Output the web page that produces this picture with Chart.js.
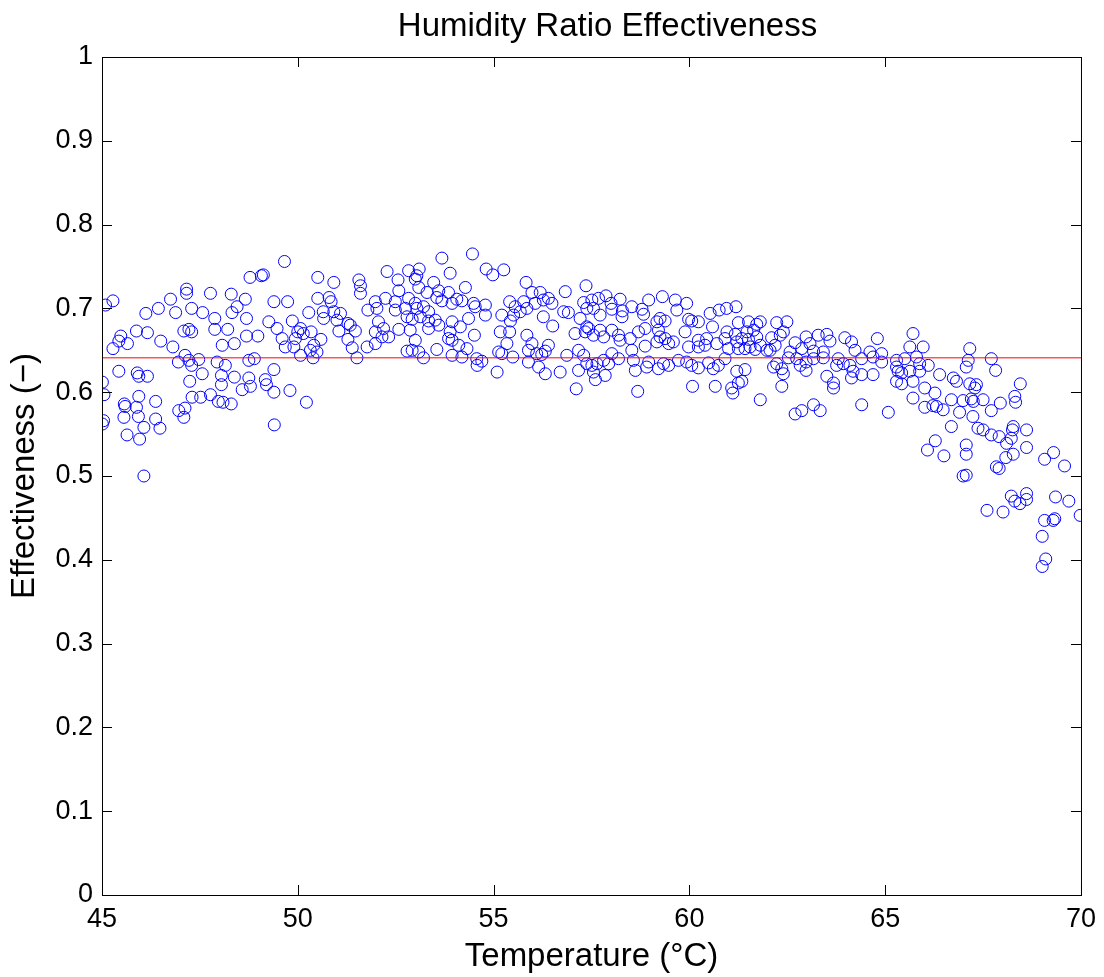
<!DOCTYPE html>
<html>
<head>
<meta charset="utf-8">
<title>Humidity Ratio Effectiveness</title>
<script src="https://cdn.jsdelivr.net/npm/chart.js@4.4.1/dist/chart.umd.min.js"></script>
<style>
  html, body { margin: 0; padding: 0; background: #fff; }
  #wrap { width: 1104px; height: 977px; }
</style>
</head>
<body>
<div id="wrap"><canvas id="effectiveness-chart" width="1104" height="977"></canvas></div>
<script>
// values
const temperature = [
  45.09, 45.28, 47.16, 47.16, 47.77, 46.75, 46.88, 46.44, 46.12, 47.29, 47.57, 47.88, 45.88, 46.16, 45.48, 45.43,
  45.65, 45.28, 46.50, 46.81, 47.09, 47.22, 47.29, 47.88, 48.07, 46.95, 47.12, 47.22, 47.47, 47.29, 47.56, 47.94,
  48.15, 45.43, 45.90, 45.94, 46.16, 47.24, 48.05, 48.05, 45.01, 45.05, 45.94, 46.37, 45.57, 45.59, 45.88, 47.30,
  47.52, 47.77, 47.97, 48.09, 46.96, 47.12, 47.09, 45.56, 45.93, 46.37, 46.07, 46.48, 45.04, 45.01, 45.64, 45.96,
  46.07,
  49.66, 48.78, 49.07, 49.12, 50.51, 50.92, 48.30, 48.66, 48.45, 48.32, 48.69, 49.39, 49.74, 50.51, 50.80, 50.85,
  50.28, 50.65, 50.66, 50.92, 51.09, 51.00, 51.28, 51.05, 51.28, 49.26, 49.47, 49.86, 50.07, 49.60, 50.00, 49.94,
  50.14, 50.34, 50.59, 50.41, 50.32, 50.49, 49.68, 49.90, 48.21, 48.69, 48.98, 48.38, 50.07, 50.39, 48.75, 48.89,
  49.39, 48.38, 48.75, 49.17, 49.20, 48.79, 48.58, 49.39, 49.80, 50.22, 48.30, 49.40,
  53.68, 54.46, 52.28, 52.83, 53.10, 53.04, 53.89, 51.56, 51.60, 51.60, 52.56, 52.58, 53.00, 53.09, 53.47, 53.60,
  53.85, 54.28, 53.30, 53.55, 54.06, 54.19, 54.49, 53.94, 53.68, 51.98, 52.24, 52.49, 52.83, 53.00, 53.21, 52.75,
  53.04, 53.34, 53.51, 52.79, 52.92, 53.13, 53.34, 53.60, 51.79, 52.02, 52.49, 51.34, 51.47, 52.06, 51.98, 52.19,
  52.15, 52.32, 52.58, 52.87, 53.34, 53.94, 54.15, 53.89, 53.85, 53.94, 54.11, 54.36, 54.53, 54.51, 51.39, 51.77,
  51.98, 53.00, 53.55, 52.79, 52.92, 53.09, 53.21, 53.94, 54.19, 54.32, 54.58, 51.51,
  54.81, 54.98, 55.26, 55.83, 56.83, 57.36, 54.79, 54.79, 55.41, 55.55, 55.77, 55.98, 56.19, 56.27, 56.40, 56.49,
  56.06, 55.85, 55.68, 55.51, 55.21, 55.43, 56.27, 56.51, 56.79, 56.91, 57.30, 57.51, 57.68, 57.38, 57.55, 57.21,
  57.38, 57.43, 57.72, 55.17, 55.41, 55.85, 55.98, 55.34, 56.40, 57.08, 57.34, 57.55, 57.72, 54.57, 54.70, 55.13,
  55.21, 55.49, 55.89, 56.10, 56.32, 56.23, 55.89, 56.15, 56.32, 56.87, 57.17, 57.30, 57.38, 57.51, 57.64, 57.55,
  56.70, 57.17, 57.60, 55.09, 57.11,
  57.87, 58.23, 58.00, 58.02, 58.53, 58.29, 58.28, 58.96, 59.31, 59.64, 59.93, 59.68, 58.79, 58.83, 59.25, 59.38,
  59.17, 59.98, 60.06, 60.23, 60.53, 60.76, 60.59, 60.95, 58.02, 57.81, 58.19, 58.23, 58.49, 58.70, 58.87, 58.87,
  59.21, 59.25, 59.38, 59.47, 59.59, 59.17, 59.89, 60.23, 60.44, 60.40, 60.70, 60.91, 59.98, 60.23, 58.02, 58.19,
  57.81, 57.94, 58.53, 58.57, 58.62, 58.96, 58.91, 59.21, 59.34, 59.47, 59.93, 60.06, 60.23, 60.49, 60.61, 60.74,
  60.91, 59.72, 57.85, 58.68, 60.08, 60.66,
  61.19, 61.25, 61.51, 61.72, 61.81, 61.64, 61.47, 60.96, 61.17, 61.34, 61.51, 61.72, 61.21, 61.00, 61.25, 61.42,
  61.55, 61.68, 61.81, 61.98, 62.23, 62.49, 62.40, 62.32, 62.10, 62.19, 62.06, 62.70, 62.98, 63.29, 63.51, 63.59,
  63.08, 62.87, 63.17, 63.42, 63.97, 64.14, 62.57, 62.23, 62.15, 62.36, 62.40, 62.53, 62.83, 62.74, 62.98, 63.17,
  62.98, 63.42, 63.80, 63.76, 63.93, 64.10, 64.14, 63.51, 61.42, 61.21, 61.34, 61.25, 61.08, 61.11, 62.36, 61.81,
  63.68, 63.68, 62.70, 62.87, 63.17, 63.34,
  64.80, 65.71, 65.63, 65.97, 67.16, 64.23, 64.40, 64.61, 64.91, 64.91, 64.69, 65.29, 65.50, 65.80, 65.88, 66.10,
  67.12, 67.07, 64.18, 64.40, 64.69, 65.29, 65.33, 65.42, 65.29, 65.42, 65.71, 65.63, 65.88, 66.39, 66.74, 66.82,
  67.16, 67.33, 65.71, 66.01, 66.27, 66.01, 66.22, 66.31, 66.48, 66.69, 66.99, 67.20, 66.90, 67.24, 67.37, 64.40,
  65.08, 66.69, 66.28, 66.08, 66.50, 67.07, 67.07, 66.99, 67.07,
  67.71, 67.82, 67.29, 68.45, 68.31, 68.33, 67.25, 67.50, 67.94, 67.71, 67.50, 67.71, 67.91, 68.10, 68.22, 68.27,
  68.25, 68.61, 68.61, 68.27, 68.08, 67.84, 67.91, 69.07, 69.30, 69.58, 68.22, 68.31, 68.44, 68.61, 68.61, 69.35,
  69.69, 67.60, 68.01, 69.98, 69.07, 69.29, 69.33, 69.01, 69.10, 69.01
];

const effectiveness = [
  0.704, 0.709, 0.723, 0.718, 0.718, 0.711, 0.695, 0.700, 0.694, 0.700, 0.695, 0.688, 0.673, 0.671, 0.667, 0.661,
  0.658, 0.652, 0.661, 0.654, 0.673, 0.675, 0.672, 0.675, 0.656, 0.636, 0.644, 0.638, 0.639, 0.632, 0.622, 0.636,
  0.632, 0.625, 0.623, 0.619, 0.619, 0.613, 0.620, 0.609, 0.612, 0.597, 0.595, 0.589, 0.586, 0.583, 0.582, 0.594,
  0.594, 0.597, 0.589, 0.588, 0.578, 0.581, 0.570, 0.570, 0.571, 0.568, 0.558, 0.557, 0.566, 0.562, 0.549, 0.544,
  0.500,
  0.756, 0.737, 0.739, 0.740, 0.737, 0.731, 0.717, 0.711, 0.702, 0.695, 0.688, 0.708, 0.708, 0.712, 0.713, 0.708,
  0.695, 0.696, 0.688, 0.696, 0.694, 0.686, 0.682, 0.673, 0.663, 0.684, 0.676, 0.685, 0.676, 0.664, 0.672, 0.664,
  0.670, 0.672, 0.663, 0.656, 0.650, 0.648, 0.654, 0.654, 0.675, 0.667, 0.667, 0.658, 0.644, 0.641, 0.638, 0.640,
  0.627, 0.618, 0.617, 0.615, 0.609, 0.607, 0.603, 0.600, 0.602, 0.588, 0.586, 0.561,
  0.760, 0.765, 0.744, 0.745, 0.747, 0.739, 0.742, 0.734, 0.727, 0.718, 0.734, 0.721, 0.735, 0.725, 0.731, 0.721,
  0.719, 0.725, 0.719, 0.713, 0.711, 0.709, 0.706, 0.706, 0.709, 0.708, 0.712, 0.708, 0.712, 0.706, 0.702, 0.700,
  0.700, 0.696, 0.686, 0.690, 0.687, 0.690, 0.685, 0.680, 0.698, 0.700, 0.698, 0.680, 0.673, 0.684, 0.672, 0.676,
  0.666, 0.666, 0.675, 0.674, 0.676, 0.684, 0.678, 0.672, 0.664, 0.662, 0.656, 0.688, 0.702, 0.668, 0.653, 0.654,
  0.658, 0.662, 0.651, 0.649, 0.650, 0.648, 0.641, 0.644, 0.642, 0.652, 0.632, 0.641,
  0.747, 0.740, 0.746, 0.731, 0.720, 0.727, 0.704, 0.692, 0.708, 0.702, 0.708, 0.719, 0.719, 0.710, 0.712, 0.706,
  0.706, 0.700, 0.696, 0.692, 0.692, 0.685, 0.690, 0.679, 0.696, 0.695, 0.707, 0.710, 0.712, 0.700, 0.700, 0.688,
  0.678, 0.676, 0.692, 0.672, 0.672, 0.668, 0.658, 0.658, 0.656, 0.670, 0.672, 0.668, 0.674, 0.640, 0.637, 0.648,
  0.646, 0.642, 0.650, 0.646, 0.649, 0.645, 0.636, 0.630, 0.622, 0.644, 0.650, 0.644, 0.634, 0.632, 0.634, 0.624,
  0.624, 0.626, 0.615, 0.624, 0.604,
  0.715, 0.711, 0.706, 0.699, 0.702, 0.697, 0.690, 0.710, 0.714, 0.710, 0.706, 0.698, 0.699, 0.693, 0.688, 0.685,
  0.684, 0.687, 0.685, 0.684, 0.694, 0.698, 0.678, 0.700, 0.674, 0.666, 0.668, 0.662, 0.664, 0.672, 0.676, 0.655,
  0.674, 0.666, 0.664, 0.658, 0.660, 0.660, 0.672, 0.662, 0.664, 0.656, 0.658, 0.664, 0.654, 0.654, 0.646, 0.640,
  0.638, 0.634, 0.650, 0.638, 0.626, 0.636, 0.630, 0.628, 0.634, 0.632, 0.636, 0.632, 0.629, 0.635, 0.628, 0.632,
  0.640, 0.638, 0.620, 0.601, 0.607, 0.607,
  0.702, 0.683, 0.684, 0.681, 0.684, 0.674, 0.672, 0.672, 0.669, 0.664, 0.663, 0.666, 0.660, 0.652, 0.652, 0.652,
  0.654, 0.651, 0.656, 0.650, 0.683, 0.684, 0.672, 0.668, 0.665, 0.656, 0.650, 0.659, 0.666, 0.668, 0.669, 0.661,
  0.658, 0.652, 0.649, 0.648, 0.665, 0.660, 0.648, 0.634, 0.630, 0.628, 0.622, 0.641, 0.632, 0.640, 0.636, 0.640,
  0.626, 0.641, 0.640, 0.632, 0.634, 0.632, 0.617, 0.619, 0.627, 0.625, 0.613, 0.611, 0.605, 0.599, 0.607, 0.591,
  0.611, 0.605, 0.574, 0.578, 0.585, 0.578,
  0.664, 0.670, 0.654, 0.654, 0.652, 0.650, 0.640, 0.648, 0.646, 0.636, 0.642, 0.638, 0.640, 0.642, 0.634, 0.632,
  0.638, 0.630, 0.625, 0.621, 0.621, 0.630, 0.625, 0.623, 0.613, 0.610, 0.613, 0.625, 0.625, 0.621, 0.617, 0.613,
  0.610, 0.609, 0.593, 0.605, 0.599, 0.582, 0.584, 0.583, 0.579, 0.591, 0.590, 0.592, 0.576, 0.571, 0.557, 0.585,
  0.576, 0.559, 0.542, 0.531, 0.524, 0.537, 0.526, 0.500, 0.501,
  0.640, 0.626, 0.605, 0.610, 0.595, 0.588, 0.589, 0.591, 0.587, 0.578, 0.555, 0.549, 0.547, 0.539, 0.545, 0.559,
  0.555, 0.555, 0.534, 0.526, 0.522, 0.511, 0.509, 0.520, 0.528, 0.512, 0.476, 0.470, 0.467, 0.479, 0.472, 0.475,
  0.470, 0.459, 0.457, 0.453, 0.447, 0.447, 0.449, 0.428, 0.401, 0.392
];

const meanEffectiveness = 0.641;
const xRange = [45, 70];
const yRange = [0, 1];
const chartTitle = "Humidity Ratio Effectiveness";

const FONT = "'Liberation Sans', Arial, sans-serif";

// MATLAB style box with inward tick marks, plus the title
const boxAxes = {
  id: "boxAxes",
  afterDraw(chart) {
    const { ctx, chartArea: a, scales } = chart;
    const len = 10;
    ctx.save();
    ctx.strokeStyle = "#000";
    ctx.lineWidth = 1;
    ctx.strokeRect(a.left + 0.5, a.top + 0.5, a.right - a.left, a.bottom - a.top);
    ctx.beginPath();
    scales.x.ticks.forEach((t) => {
      const px = Math.round(scales.x.getPixelForValue(t.value)) + 0.5;
      ctx.moveTo(px, a.bottom);
      ctx.lineTo(px, a.bottom - len);
      ctx.moveTo(px, a.top);
      ctx.lineTo(px, a.top + len);
    });
    scales.y.ticks.forEach((t) => {
      const py = Math.round(scales.y.getPixelForValue(t.value)) + 0.5;
      ctx.moveTo(a.left, py);
      ctx.lineTo(a.left + len, py);
      ctx.moveTo(a.right, py);
      ctx.lineTo(a.right - len, py);
    });
    ctx.stroke();

    // title sits a little right of the plot centre, as in the original
    ctx.fillStyle = "#000";
    ctx.font = "33px " + FONT;
    ctx.textAlign = "center";
    ctx.textBaseline = "alphabetic";
    ctx.fillText(chartTitle, (a.left + a.right) / 2 + 16, 36);
    ctx.restore();
  },
};

const ctx = document.getElementById("effectiveness-chart");

new Chart(ctx, {
  type: "scatter",
  data: {
    datasets: [
      {
        type: "line",
        label: "Mean",
        data: [
          { x: xRange[0], y: meanEffectiveness },
          { x: xRange[1], y: meanEffectiveness },
        ],
        borderColor: "#ff0000",
        borderWidth: 1,
        pointRadius: 0,
        fill: false,
      },
      {
        label: "Effectiveness",
        data: temperature.map((t, i) => ({ x: t, y: effectiveness[i] })),
        borderColor: "#0000ff",
        backgroundColor: "rgba(0,0,0,0)",
        borderWidth: 1,
        pointRadius: 6,
        pointHoverRadius: 6,
      },
    ],
  },
  options: {
    responsive: false,
    animation: false,
    layout: { padding: { left: 0, right: 20, top: 57, bottom: 0 } },
    plugins: {
      legend: { display: false },
      tooltip: { enabled: false },
      title: { display: false },
    },
    scales: {
      x: {
        type: "linear",
        min: xRange[0],
        max: xRange[1],
        afterFit: (scale) => { scale.height = 82; },
        grid: { display: false, drawTicks: false },
        border: { display: false },
        ticks: {
          stepSize: 5,
          color: "#000",
          padding: 8,
          font: { family: FONT, size: 27 },
        },
        title: {
          display: true,
          text: "Temperature (°C)",
          color: "#000",
          font: { family: FONT, size: 33 },
          padding: { top: 0, bottom: 0 },
        },
      },
      y: {
        type: "linear",
        min: yRange[0],
        max: yRange[1],
        afterFit: (scale) => { scale.width = 102; },
        grid: { display: false, drawTicks: false },
        border: { display: false },
        ticks: {
          stepSize: 0.1,
          color: "#000",
          padding: 9,
          font: { family: FONT, size: 27 },
          callback: (v) => String(Number(v.toFixed(1))),
        },
        title: {
          display: true,
          text: "Effectiveness (−)",
          color: "#000",
          font: { family: FONT, size: 33 },
          padding: { top: 5, bottom: 0 },
        },
      },
    },
  },
  plugins: [boxAxes],
});
</script>
</body>
</html>
